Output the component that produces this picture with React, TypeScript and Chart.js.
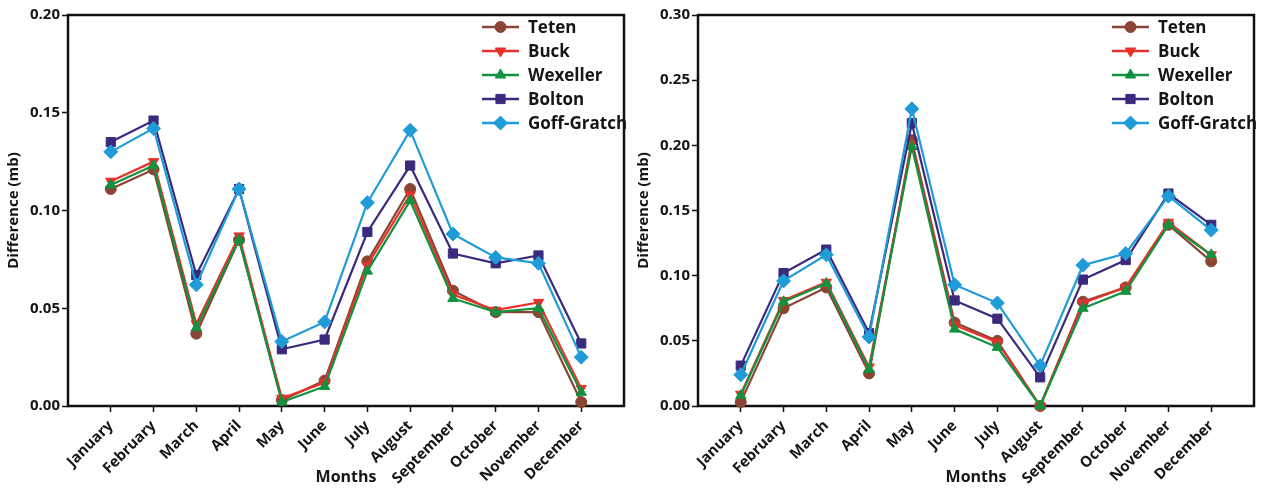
import React, { useEffect, useRef } from 'react';
import { Chart, registerables } from 'chart.js';
import { drawPoint } from 'chart.js/helpers';

Chart.register(...registerables);

const MONTHS = ['January', 'February', 'March', 'April', 'May', 'June', 'July', 'August', 'September', 'October', 'November', 'December'];
const SERIES_NAMES = ['Teten', 'Buck', 'Wexeller', 'Bolton', 'Goff-Gratch'];
const COLORS = ['#8b4535', '#e8312b', '#12923f', '#3b2a7c', '#1f9bd7'];
const POINT_STYLES = ['circle', 'triangle', 'triangle', 'rect', 'rectRot'];
const POINT_ROTATIONS = [0, 180, 0, 0, 0];
const POINT_RADII = [5.5, 6, 6, 6.5, 7];

// Left panel
const TETEN_L = [0.111, 0.121, 0.037, 0.085, 0.003, 0.013, 0.074, 0.111, 0.059, 0.048, 0.048, 0.002];
const BUCK_L = [0.115, 0.125, 0.042, 0.087, 0.004, 0.012, 0.072, 0.108, 0.057, 0.049, 0.053, 0.009];
const WEX_L = [0.113, 0.123, 0.040, 0.085, 0.002, 0.010, 0.069, 0.105, 0.055, 0.048, 0.050, 0.007];
const BOLTON_L = [0.135, 0.146, 0.067, 0.111, 0.029, 0.034, 0.089, 0.123, 0.078, 0.073, 0.077, 0.032];
const GOFF_L = [0.130, 0.142, 0.062, 0.111, 0.033, 0.043, 0.104, 0.141, 0.088, 0.076, 0.073, 0.025];
const Y_TICKS_L = [0, 0.05, 0.10, 0.15, 0.20];

// Right panel
const TETEN_R = [0.003, 0.075, 0.091, 0.025, 0.204, 0.064, 0.050, 0.000, 0.080, 0.091, 0.139, 0.111];
const BUCK_R = [0.009, 0.081, 0.095, 0.030, 0.201, 0.062, 0.049, 0.000, 0.079, 0.091, 0.141, 0.116];
const WEX_R = [0.008, 0.080, 0.094, 0.028, 0.199, 0.059, 0.045, 0.000, 0.075, 0.088, 0.139, 0.116];
const BOLTON_R = [0.031, 0.102, 0.120, 0.056, 0.217, 0.081, 0.067, 0.022, 0.097, 0.112, 0.163, 0.139];
const GOFF_R = [0.024, 0.096, 0.116, 0.053, 0.228, 0.093, 0.079, 0.031, 0.108, 0.117, 0.161, 0.135];
const Y_TICKS_R = [0, 0.05, 0.10, 0.15, 0.20, 0.25, 0.30];

const X_TITLE = 'Months';
const Y_TITLE = 'Difference (mb)';

const FONT = "'Open Sans', sans-serif";
const TEXT_COLOR = '#151515';

const framePlugin = {
  id: 'frame',
  beforeDatasetsDraw(chart: any) {
    const { ctx, chartArea } = chart;
    ctx.save();
    ctx.strokeStyle = '#111';
    ctx.lineWidth = 2.5;
    ctx.strokeRect(chartArea.left, chartArea.top, chartArea.right - chartArea.left, chartArea.bottom - chartArea.top);
    ctx.restore();
  },
};

const legendPlugin = {
  id: 'insideLegend',
  afterDraw(chart: any) {
    const { ctx, chartArea } = chart;
    ctx.save();
    chart.data.datasets.forEach((ds: any, i: number) => {
      const y = chartArea.top + 12 + i * 24;
      const x0 = chartArea.right - 142;
      const x1 = chartArea.right - 105;
      ctx.strokeStyle = ds.borderColor;
      ctx.lineWidth = 2.5;
      ctx.beginPath();
      ctx.moveTo(x0, y);
      ctx.lineTo(x1, y);
      ctx.stroke();
      ctx.fillStyle = ds.pointBackgroundColor;
      ctx.strokeStyle = ds.pointBorderColor;
      ctx.lineWidth = 1;
      drawPoint(ctx, { pointStyle: ds.pointStyle, rotation: ds.pointRotation, radius: ds.pointRadius, borderWidth: 1 }, (x0 + x1) / 2, y);
      ctx.fillStyle = TEXT_COLOR;
      ctx.font = `bold 17px ${FONT}`;
      ctx.textBaseline = 'middle';
      ctx.textAlign = 'left';
      ctx.fillText(ds.label, chartArea.right - 96, y + 1);
    });
    ctx.restore();
  },
};

function Panel({ series, yTicks, left }: { series: number[][]; yTicks: number[]; left: number }) {
  const ref = useRef<HTMLCanvasElement | null>(null);
  useEffect(() => {
    const labels = ['', ...MONTHS, ''];
    const chart = new Chart(ref.current as HTMLCanvasElement, {
      type: 'line',
      data: {
        labels,
        datasets: series.map((vals, i) => ({
          label: SERIES_NAMES[i],
          data: [null, ...vals, null],
          borderColor: COLORS[i],
          backgroundColor: COLORS[i],
          pointBackgroundColor: COLORS[i],
          pointBorderColor: COLORS[i],
          pointStyle: POINT_STYLES[i],
          pointRotation: POINT_ROTATIONS[i],
          pointRadius: POINT_RADII[i],
          pointBorderWidth: 1,
          borderWidth: 2.2,
          tension: 0,
          clip: false,
          order: series.length - 1 - i,
        })) as any,
      },
      options: {
        responsive: false,
        animation: false,
        devicePixelRatio: 1,
        layout: { padding: { top: 15, right: 4, left: 0, bottom: 0 } },
        plugins: { legend: { display: false }, tooltip: { enabled: false } },
        scales: {
          x: {
            type: 'category',
            offset: false,
            border: { display: false },
            grid: {
              drawOnChartArea: false,
              drawTicks: true,
              tickLength: 6,
              tickWidth: 1.5,
              tickColor: (c: any) => (c.index > 0 && c.index <= MONTHS.length ? '#111' : 'rgba(0,0,0,0)'),
            },
            ticks: {
              autoSkip: false,
              maxRotation: 45,
              minRotation: 45,
              padding: 5,
              color: TEXT_COLOR,
              font: { family: FONT, size: 15, weight: 'bold' },
            },
            title: {
              display: true,
              text: X_TITLE,
              color: TEXT_COLOR,
              font: { family: FONT, size: 16, weight: 'bold' },
              padding: { top: 0, bottom: 2 },
            },
            afterFit: (scale: any) => {
              scale.height = 83;
              scale.paddingLeft = 0;
              scale.paddingRight = 0;
            },
          },
          y: {
            type: 'linear',
            min: yTicks[0],
            max: yTicks[yTicks.length - 1],
            border: { display: false },
            grid: { drawOnChartArea: false, drawTicks: true, tickLength: 6, tickWidth: 1.5, tickColor: '#111' },
            afterBuildTicks: (scale: any) => {
              scale.ticks = yTicks.map((v) => ({ value: v }));
            },
            ticks: {
              padding: 2,
              color: TEXT_COLOR,
              font: { family: FONT, size: 15, weight: 'bold' },
              callback: (v: any) => Number(v).toFixed(2),
            },
            title: {
              display: true,
              text: Y_TITLE,
              color: TEXT_COLOR,
              font: { family: FONT, size: 15, weight: 'bold' },
              padding: { top: 5, bottom: 0 },
            },
            afterFit: (scale: any) => {
              scale.width = 68;
              scale.paddingTop = 0;
              scale.paddingBottom = 0;
            },
          },
        },
      } as any,
      plugins: [framePlugin, legendPlugin],
    });
    return () => chart.destroy();
  }, []);
  return (
    <canvas
      ref={ref}
      width={632}
      height={489}
      style={{ position: 'absolute', left, top: 0, width: 632, height: 489, display: 'block' }}
    />
  );
}

export default function App() {
  return (
    <div style={{ position: 'fixed', left: 0, top: 0, width: 1262, height: 489, background: '#fff', overflow: 'hidden' }}>
      <Panel series={[TETEN_L, BUCK_L, WEX_L, BOLTON_L, GOFF_L]} yTicks={Y_TICKS_L} left={0} />
      <Panel series={[TETEN_R, BUCK_R, WEX_R, BOLTON_R, GOFF_R]} yTicks={Y_TICKS_R} left={630} />
    </div>
  );
}
